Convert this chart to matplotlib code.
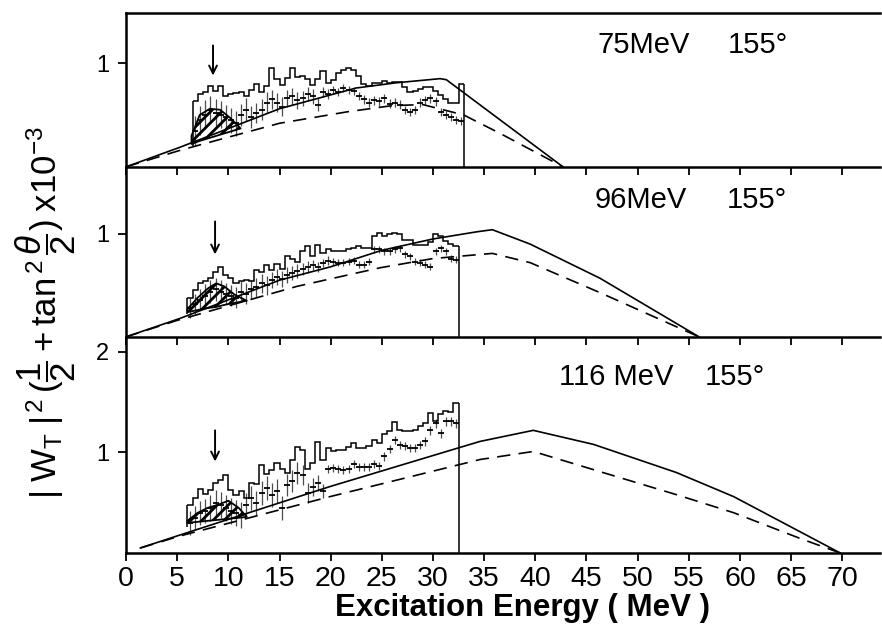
import matplotlib
matplotlib.use('Agg')
import matplotlib.pyplot as plt
import numpy as np

plt.rcParams['font.family'] = ['Liberation Sans', 'DejaVu Sans']
plt.rcParams['mathtext.fontset'] = 'custom'
plt.rcParams['mathtext.rm'] = 'Liberation Sans'
plt.rcParams['mathtext.it'] = 'Liberation Sans:italic'
plt.rcParams['mathtext.bf'] = 'Liberation Sans:bold'
plt.rcParams['hatch.linewidth'] = 2.0

# ---------------- data ----------------
x_ticks = [0, 5, 10, 15, 20, 25, 30, 35, 40, 45, 50, 55, 60, 65, 70]
bin_width = 0.5

# 75 MeV panel
top_label = ('75MeV', '155°')
top_hist_start = 6.5
top_hist = [0.63, 0.70, 0.72, 0.78, 0.73, 0.78, 0.68, 0.70, 0.71, 0.72,
            0.68, 0.74, 0.80, 0.72, 0.78, 0.95, 0.85, 0.79, 0.86, 0.95,
            0.87, 0.88, 0.85, 0.79, 0.85, 0.92, 0.81, 0.84, 0.90, 0.93,
            0.95, 0.93, 0.88, 0.80, 0.78, 0.81, 0.81, 0.83, 0.81, 0.82,
            0.82, 0.77, 0.72, 0.73, 0.75, 0.77, 0.77, 0.73, 0.69, 0.65,
            0.62, 0.62, 0.80]
top_pts = [0.35, 0.45, 0.50, 0.55, 0.52, 0.50, 0.48, 0.45, 0.42,
           0.50, 0.55, 0.48, 0.52, 0.55, 0.62,
           0.65, 0.62, 0.58, 0.66, 0.68, 0.64, 0.66, 0.70, 0.68, 0.60, 0.72, 0.70,
           0.74, 0.72, 0.76, 0.74,
           0.73, 0.68, 0.65, 0.62, 0.64, 0.63, 0.66, 0.61,
           0.62, 0.60, 0.55, 0.53, 0.55, 0.62,
           0.64, 0.66, 0.63,
           0.53, 0.50, 0.48, 0.45, 0.44]
top_err = [0.14, 0.14, 0.14, 0.13, 0.13, 0.13, 0.12, 0.12, 0.12,
           0.11, 0.11, 0.11, 0.10, 0.10, 0.10,
           0.09, 0.09, 0.09, 0.08, 0.08, 0.08, 0.07, 0.07, 0.07, 0.06, 0.05, 0.05,
           0.04, 0.04, 0.04, 0.04,
           0.04, 0.04, 0.04, 0.04, 0.04, 0.04, 0.04, 0.04,
           0.04, 0.04, 0.04, 0.04, 0.04, 0.04,
           0.04, 0.04, 0.04,
           0.04, 0.04, 0.04, 0.04, 0.04]
top_left_base = 0.20
top_solid_x = [0.0, 5.3, 15.0, 22.5, 26.4, 30.7, 31.3, 42.7]
top_solid_y = [0.0, 0.19, 0.56, 0.76, 0.81, 0.85, 0.84, 0.0]
top_dash_x = [0.0, 5.3, 15.0, 21.6, 26.0, 29.0, 33.0, 36.6, 42.7]
top_dash_y = [0.0, 0.16, 0.42, 0.53, 0.59, 0.60, 0.50, 0.32, 0.0]
top_hatch_x = [6.4, 7.2, 8.2, 9.2, 10.2, 11.2]
top_hatch_lo = [0.22, 0.25, 0.28, 0.31, 0.34, 0.37]
top_hatch_hi = [0.30, 0.50, 0.56, 0.55, 0.47, 0.37]
top_arrow = (8.5, 1.17, 0.88)
top_ylim = 1.48
top_yticks = [1]

# 96 MeV panel
mid_label = ('96MeV', '155°')
mid_hist_start = 6.0
mid_hist = [0.375, 0.45, 0.52, 0.54, 0.57, 0.63, 0.68, 0.60, 0.57, 0.52,
            0.54, 0.55, 0.54, 0.65, 0.63, 0.70, 0.65, 0.71, 0.66, 0.78,
            0.76, 0.73, 0.83, 0.88, 0.78, 0.89, 0.81, 0.85, 0.83, 0.83,
            0.83, 0.85, 0.86, 0.88, 0.86, 0.86, 0.98, 1.01, 0.98, 1.00,
            1.01, 1.00, 0.94, 0.94, 0.89, 0.89, 0.89, 0.92, 1.00, 0.98,
            0.93, 0.90, 0.88]
mid_pts = [0.28, 0.32, 0.36, 0.40, 0.44, 0.46, 0.44, 0.42, 0.40, 0.38,
           0.44, 0.42, 0.46, 0.48, 0.52, 0.50, 0.55, 0.58,
           0.56, 0.60, 0.62, 0.64, 0.66, 0.68, 0.70, 0.68, 0.72, 0.74,
           0.73, 0.72, 0.72, 0.73, 0.74, 0.70, 0.70, 0.73,
           0.85, 0.85, 0.83, 0.83, 0.85, 0.86,
           0.80, 0.78, 0.73, 0.72, 0.70, 0.68,
           0.83, 0.86, 0.83, 0.76, 0.75]
mid_err = [0.10, 0.10, 0.10, 0.11, 0.11, 0.11, 0.11, 0.10, 0.10, 0.10,
           0.10, 0.10, 0.09, 0.09, 0.09, 0.09, 0.08, 0.08,
           0.08, 0.08, 0.07, 0.07, 0.06, 0.06, 0.05, 0.05, 0.04, 0.04,
           0.035, 0.035, 0.035, 0.035, 0.035, 0.035, 0.035, 0.035,
           0.035, 0.035, 0.035, 0.035, 0.035, 0.035,
           0.035, 0.035, 0.035, 0.035, 0.035, 0.035,
           0.035, 0.035, 0.035, 0.035, 0.035]
mid_left_base = 0.22
mid_solid_x = [0.0, 5.3, 15.0, 20.0, 25.0, 30.0, 34.3, 35.8, 39.5, 46.3, 56.0]
mid_solid_y = [0.0, 0.18, 0.55, 0.68, 0.84, 0.95, 1.02, 1.04, 0.90, 0.57, 0.0]
mid_dash_x = [0.0, 5.0, 16.7, 24.8, 30.0, 35.8, 39.5, 46.3, 56.0]
mid_dash_y = [0.0, 0.16, 0.49, 0.67, 0.76, 0.81, 0.72, 0.43, 0.0]
mid_hatch_x = [6.0, 7.0, 8.0, 8.8, 9.6, 10.6, 11.8]
mid_hatch_lo = [0.24, 0.26, 0.28, 0.29, 0.31, 0.33, 0.35]
mid_hatch_hi = [0.27, 0.38, 0.47, 0.52, 0.49, 0.41, 0.35]
mid_arrow = (8.7, 1.12, 0.80)
mid_ylim = 1.65
mid_yticks = [1]

# 116 MeV panel
bot_label = ('116 MeV', '155°')
bot_hist_start = 6.0
bot_hist = [0.48, 0.55, 0.64, 0.59, 0.63, 0.70, 0.73, 0.78, 0.63, 0.58,
            0.62, 0.55, 0.70, 0.69, 0.88, 0.79, 0.83, 0.90, 0.84, 0.80,
            0.93, 1.05, 1.02, 0.84, 0.90, 1.10, 0.93, 1.04, 1.01, 1.02,
            1.02, 1.05, 1.09, 1.04, 1.04, 1.06, 1.12, 1.09, 1.18, 1.21,
            1.30, 1.22, 1.21, 1.21, 1.22, 1.26, 1.29, 1.39, 1.31, 1.38,
            1.41, 1.40, 1.49]
bot_pts = [0.30, 0.35, 0.40, 0.42, 0.45, 0.50, 0.48, 0.45,
           0.42, 0.40, 0.38, 0.48, 0.55, 0.50,
           0.60, 0.65, 0.58, 0.62, 0.45, 0.68, 0.72, 0.80, 0.78, 0.60, 0.66, 0.70, 0.62,
           0.84, 0.85, 0.84, 0.83, 0.84, 0.89, 0.86, 0.86, 0.86, 0.89, 0.87,
           0.96, 1.03, 1.12, 1.07,
           1.06, 1.04, 1.04, 1.07,
           1.11, 1.22, 1.29, 1.19, 1.31, 1.31, 1.29]
bot_err = [0.12, 0.12, 0.12, 0.12, 0.13, 0.13, 0.13, 0.13,
           0.13, 0.13, 0.13, 0.12, 0.12, 0.12,
           0.12, 0.12, 0.12, 0.12, 0.12, 0.11, 0.11, 0.11, 0.10, 0.10, 0.09, 0.08, 0.07,
           0.04, 0.04, 0.04, 0.04, 0.04, 0.04, 0.04, 0.04, 0.04, 0.04, 0.04,
           0.04, 0.04, 0.04, 0.04,
           0.04, 0.04, 0.04, 0.04,
           0.045, 0.045, 0.045, 0.045, 0.045, 0.045, 0.045]
bot_left_base = 0.26
bot_solid_x = [1.4, 5.3, 19.9, 32.3, 34.6, 39.8, 45.7, 53.8, 59.4, 69.8]
bot_solid_y = [0.05, 0.18, 0.66, 1.04, 1.11, 1.22, 1.08, 0.80, 0.56, 0.0]
bot_dash_x = [1.4, 5.3, 19.9, 34.6, 39.8, 46.3, 53.8, 59.4, 66.0, 69.8]
bot_dash_y = [0.05, 0.17, 0.56, 0.93, 1.01, 0.81, 0.58, 0.40, 0.14, 0.0]
bot_hatch_x = [6.0, 7.0, 8.0, 9.0, 10.0, 11.0, 11.8]
bot_hatch_lo = [0.30, 0.31, 0.32, 0.33, 0.34, 0.35, 0.36]
bot_hatch_hi = [0.32, 0.40, 0.45, 0.48, 0.52, 0.45, 0.36]
bot_arrow = (8.7, 1.22, 0.91)
bot_ylim = 2.15
bot_yticks = [1, 2]

label_pos = {'top': (46.1, 1.17, 58.8), 'mid': (45.8, 1.33, 58.7), 'bot': (42.3, 1.75, 56.6)}

# ---------------- figure ----------------
fig = plt.figure(figsize=(8.82, 6.32), dpi=100)
L, W = 0.1429, 0.855
ax_bot = fig.add_axes([L, 0.125, W, 0.342])
ax_mid = fig.add_axes([L, 0.467, W, 0.269])
ax_top = fig.add_axes([L, 0.736, W, 0.243])

panels = [
    (ax_top, 'top', top_label, top_hist_start, top_hist, top_pts, top_err, top_left_base,
     top_solid_x, top_solid_y, top_dash_x, top_dash_y, top_hatch_x, top_hatch_lo, top_hatch_hi,
     top_arrow, top_ylim, top_yticks),
    (ax_mid, 'mid', mid_label, mid_hist_start, mid_hist, mid_pts, mid_err, mid_left_base,
     mid_solid_x, mid_solid_y, mid_dash_x, mid_dash_y, mid_hatch_x, mid_hatch_lo, mid_hatch_hi,
     mid_arrow, mid_ylim, mid_yticks),
    (ax_bot, 'bot', bot_label, bot_hist_start, bot_hist, bot_pts, bot_err, bot_left_base,
     bot_solid_x, bot_solid_y, bot_dash_x, bot_dash_y, bot_hatch_x, bot_hatch_lo, bot_hatch_hi,
     bot_arrow, bot_ylim, bot_yticks),
]

for (ax, key, lab, hstart, hist, pts, err, lbase, sx, sy, dx, dy, hx, hlo, hhi,
     arrow, ylim, yticks) in panels:
    n = len(hist)
    edges = hstart + bin_width * np.arange(n + 1)
    centers = edges[:-1] + bin_width / 2
    # error bar data points
    ax.errorbar(centers, pts, yerr=err, fmt='_', color='black', ecolor='0.3',
                elinewidth=0.9, markersize=5, markeredgewidth=1.3, capsize=0, zorder=2)
    # hatched wedge
    ax.fill_between(hx, hlo, hhi, facecolor='none', edgecolor='black',
                    hatch='///', linewidth=1.3, zorder=3)
    # histogram
    ax.stairs(hist, edges, baseline=None, color='black', linewidth=1.1, zorder=4)
    ax.vlines(edges[-1], 0, hist[-1], color='black', linewidth=1.1, zorder=4)
    ax.vlines(edges[0], lbase, hist[0], color='black', linewidth=1.1, zorder=4)
    # calculated curves
    ax.plot(sx, sy, color='black', linewidth=1.2, zorder=5)
    ax.plot(dx, dy, color='black', linewidth=1.2, dashes=(8, 5), zorder=5)
    # arrow
    ax.annotate('', xy=(arrow[0], arrow[2]), xytext=(arrow[0], arrow[1]),
                arrowprops=dict(arrowstyle='->', color='black', lw=1.4,
                                shrinkA=0, shrinkB=0, mutation_scale=14))
    # labels
    lx, ly, dxl = label_pos[key]
    ax.text(lx, ly, lab[0], fontsize=21, va='center', ha='left')
    ax.text(dxl, ly, lab[1], fontsize=21, va='center', ha='left')

    ax.set_xlim(0, 73.7)
    ax.set_ylim(0, ylim)
    ax.set_xticks(x_ticks)
    ax.set_yticks(yticks)
    ax.set_yticklabels([str(v) for v in yticks], fontsize=17)
    ax.tick_params(axis='both', direction='out', length=6, width=1.3, pad=6)
    ax.spines['right'].set_visible(False)
    for s in ('left', 'bottom', 'top'):
        ax.spines[s].set_linewidth(1.8)
    if key != 'top':
        ax.spines['top'].set_visible(False)
    if key != 'bot':
        ax.tick_params(axis='x', labelbottom=False)

ax_bot.set_xticklabels([str(v) for v in x_ticks], fontsize=20.5)
ax_bot.tick_params(axis='x', pad=3)

fig.text(0.592, 0.038, 'Excitation Energy ( MeV )', fontsize=22.5, fontweight='bold',
         ha='center', va='center')
fig.text(0.052, 0.505,
         r'$|\;\mathrm{W_T}\;|^{\,2}\,(\dfrac{1}{2}+\mathrm{tan}^{\,2}\,\dfrac{\theta}{2})\;\mathrm{x10}^{-3}$',
         fontsize=25, rotation=90, ha='center', va='center')

fig.savefig('out.png', dpi=100)
